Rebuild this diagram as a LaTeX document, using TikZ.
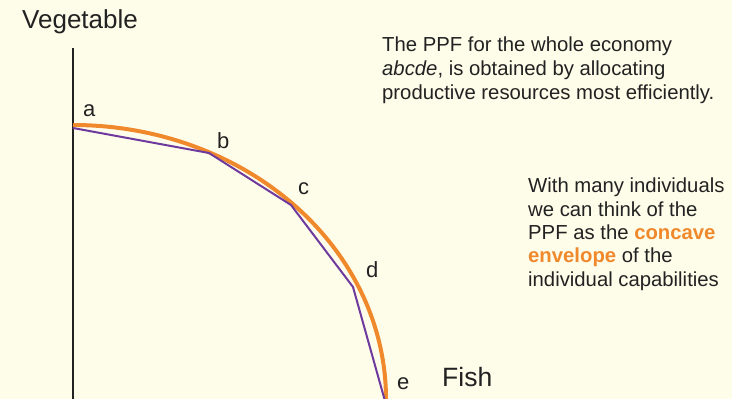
\documentclass[tikz,border=0pt]{standalone}
\usepackage{fontspec}
\setmainfont{Liberation Sans}
\definecolor{bg}{HTML}{FEFDEA}
\definecolor{ppforange}{HTML}{F0892C}
\definecolor{ppfpurple}{HTML}{6E3A9E}
\definecolor{txt}{HTML}{222222}
\begin{document}
\begin{tikzpicture}[x=1pt,y=1pt,
  lbl/.style={anchor=base west, inner sep=0, text=txt, font=\fontsize{22}{24}\selectfont},
  body/.style={anchor=base west, inner sep=0, text=txt, font=\fontsize{20.3}{24}\selectfont},
  big/.style={anchor=base west, inner sep=0, text=txt, font=\fontsize{26.5}{28}\selectfont},
  axisline/.style={draw=txt, line width=1.3pt},
  envelope/.style={draw=ppforange, line width=4pt},
  indiv/.style={draw=ppfpurple, line width=2pt, line join=round}]
\fill[bg] (0,0) rectangle (732,399);
\useasboundingbox (0,0) rectangle (732,399);
\begin{scope}
\clip (0,0) rectangle (732,399);
% axis
\coordinate (top) at (73,351);
\coordinate (origin) at (73,0);
\draw[axisline] (top) -- (origin);
% envelope (orange)
\coordinate (ea) at (73,274);
\draw[envelope] (ea) arc[start angle=90, end angle=-2, x radius=313, y radius=274];
% individual polyline (purple)
\coordinate (pa) at (73,271);
\coordinate (pb) at (209,246);
\coordinate (pc) at (291,194);
\coordinate (pd) at (353,112);
\coordinate (pe) at (385,-2);
\draw[indiv] (pa) -- (pb) -- (pc) -- (pd) -- (pe);
\end{scope}
% labels
\node[lbl] (la) at (83,282) {a};
\node[lbl] (lb) at (217,250) {b};
\node[lbl] (lc) at (298,204) {c};
\node[lbl] (ld) at (366,121) {d};
\node[lbl] (le) at (397,9) {e};
\node[big] (fish) at (442,12) {Fish};
\node[anchor=base west, inner sep=0, text=txt, font=\fontsize{26}{28}\selectfont] (veg) at (22,370) {Vegetable};
% top text
\node[body] (t1) at (382,347) {The PPF for the whole economy};
\node[body] (t2) at (382,323) {\textit{abcde}, is obtained by allocating};
\node[body] (t3) at (382,299) {productive resources most efficiently.};
% right text
\node[body] (r1) at (528,206) {With many individuals};
\node[body] (r2) at (528,182) {we can think of the};
\node[body] (r3) at (528,159) {PPF as the \textbf{\color{ppforange}concave}};
\node[body] (r4) at (528,136) {\textbf{\color{ppforange}envelope} of the};
\node[body] (r5) at (528,112) {individual capabilities};
\end{tikzpicture}
\end{document}
